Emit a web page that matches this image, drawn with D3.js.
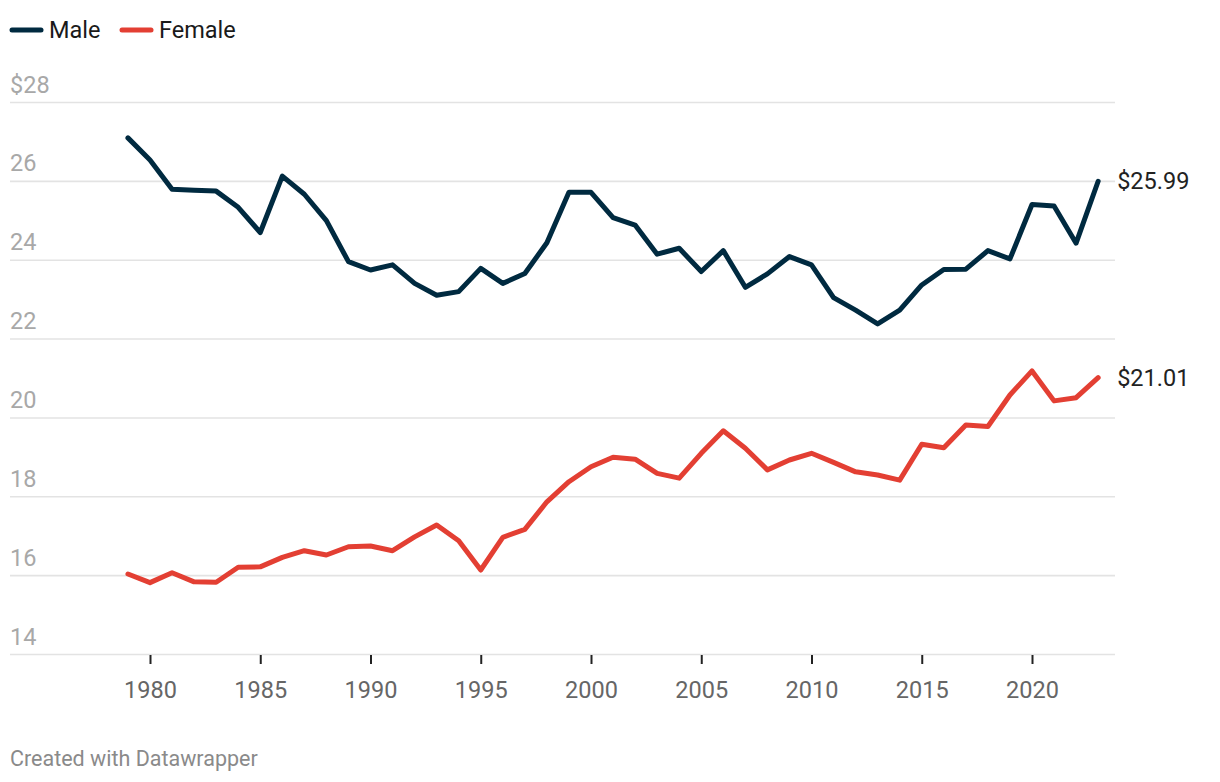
<!DOCTYPE html>
<html>
<head>
<meta charset="utf-8">
<script src="https://cdn.jsdelivr.net/npm/d3@7"></script>
<style>
  html, body { margin: 0; padding: 0; background: #fff; }
  svg { display: block; font-family: Roboto, "Noto Sans", sans-serif; }
</style>
</head>
<body>
<svg id="chart" width="1220" height="782"></svg>
<script>
const years = d3.range(1979, 2024);
const male = [27.09, 26.53, 25.79, 25.76, 25.74, 25.33, 24.69, 26.12, 25.66, 24.99,
  23.95, 23.74, 23.87, 23.40, 23.10, 23.19, 23.78, 23.40, 23.65, 24.43,
  25.71, 25.71, 25.07, 24.88, 24.14, 24.29, 23.70, 24.23, 23.30, 23.64,
  24.08, 23.87, 23.04, 22.72, 22.37, 22.72, 23.36, 23.75, 23.76, 24.23,
  24.02, 25.40, 25.36, 24.42, 25.99];
const female = [16.03, 15.81, 16.06, 15.83, 15.82, 16.20, 16.21, 16.45, 16.62, 16.51,
  16.72, 16.74, 16.62, 16.97, 17.27, 16.87, 16.13, 16.96, 17.16, 17.86,
  18.37, 18.75, 18.99, 18.94, 18.58, 18.46, 19.09, 19.66, 19.22, 18.67,
  18.92, 19.09, 18.86, 18.62, 18.54, 18.41, 19.32, 19.23, 19.81, 19.77,
  20.57, 21.18, 20.42, 20.50, 21.01];
const yTicks = [14, 16, 18, 20, 22, 24, 26, 28];
const xTicks = [1980, 1985, 1990, 1995, 2000, 2005, 2010, 2015, 2020];
const seriesNames = ["Male", "Female"];
const seriesColors = ["#002a40", "#e33f33"];
const endLabels = ["$25.99", "$21.01"];

const svg = d3.select("#chart");
const gridLeft = 10, gridRight = 1115;
const x = d3.scaleLinear().domain([1980, 2020]).range([150, 1032]);
const y = d3.scaleLinear().domain([14, 28]).range([654, 102]);

// gridlines + y labels
const yAxis = d3.axisLeft(y).tickValues(yTicks).tickSize(0).tickFormat(d => d === 28 ? "$28" : d);
const gy = svg.append("g").attr("transform", `translate(${gridLeft},0)`).call(yAxis);
gy.select(".domain").remove();
gy.selectAll(".tick line").remove();
gy.selectAll(".tick").append("line")
  .attr("x1", 0).attr("x2", gridRight - gridLeft)
  .attr("stroke", "#e3e3e3").attr("stroke-width", 1.6);
gy.selectAll(".tick text")
  .attr("x", 0).attr("y", -10).attr("dy", 0)
  .attr("text-anchor", "start")
  .attr("fill", "#a8a8a8").attr("font-size", 23.5)
  .attr("font-family", "Roboto, sans-serif");

// x axis
const xAxis = d3.axisBottom(x).tickValues(xTicks).tickSize(9).tickFormat(d3.format("d"));
const gx = svg.append("g").attr("transform", `translate(0,655)`).call(xAxis);
gx.select(".domain").remove();
gx.selectAll(".tick line").attr("stroke", "#222").attr("stroke-width", 2);
gx.selectAll(".tick text").attr("y", 43).attr("dy", 0)
  .attr("fill", "#666").attr("font-size", 23.5)
  .attr("font-family", "Roboto, sans-serif");

// lines
const data = [male, female];
const line = d3.line().x((d, i) => x(years[i])).y(d => y(d));
data.forEach((vals, k) => {
  svg.append("path").datum(vals)
    .attr("d", line)
    .attr("fill", "none")
    .attr("stroke", seriesColors[k])
    .attr("stroke-width", 5)
    .attr("stroke-linejoin", "round")
    .attr("stroke-linecap", "round");
  svg.append("text")
    .attr("x", x(years[years.length - 1]) + 19)
    .attr("y", y(vals[vals.length - 1]))
    .attr("dy", "0.35em")
    .attr("fill", "#222")
    .attr("font-size", 23.5)
    .text(endLabels[k]);
});

// legend
const legendX = [12, 122];
seriesNames.forEach((name, k) => {
  const g = svg.append("g").attr("transform", `translate(${legendX[k]},30)`);
  g.append("line").attr("x1", 0).attr("x2", 29).attr("y1", 0).attr("y2", 0)
    .attr("stroke", seriesColors[k]).attr("stroke-width", 5).attr("stroke-linecap", "round");
  g.append("text").attr("x", 37).attr("y", 0).attr("dy", "0.35em")
    .attr("fill", "#1a1a1a").attr("font-size", 23.5).text(name);
});

// footer
svg.append("text").attr("x", 10).attr("y", 766)
  .attr("fill", "#8a8a8a").attr("font-size", 21.5).text("Created with Datawrapper");
</script>
</body>
</html>
